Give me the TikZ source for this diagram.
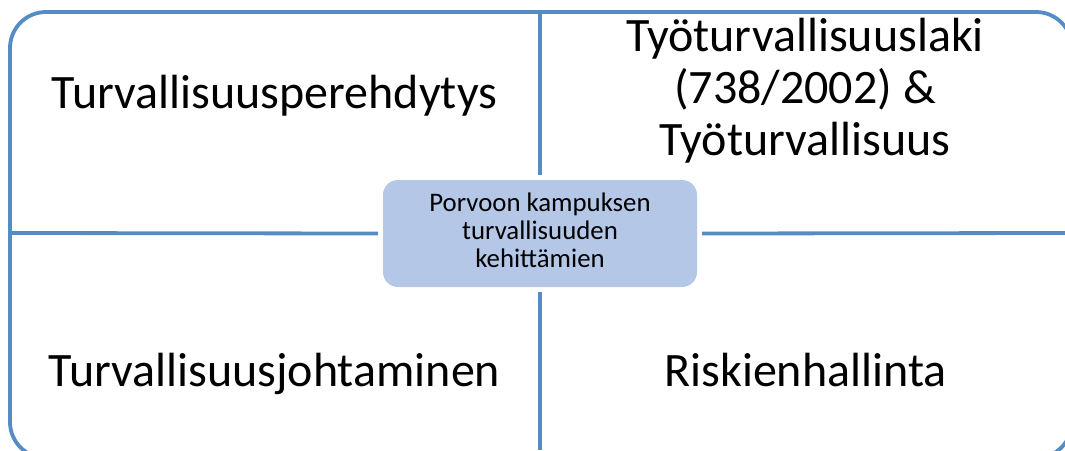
\documentclass[tikz,border=0pt]{standalone}
\usepackage{fontspec}
\setmainfont{Carlito}
\definecolor{linec}{RGB}{86,140,198}
\definecolor{boxfill}{RGB}{180,199,231}
\begin{document}
\begin{tikzpicture}[x=1pt,y=-1pt,
  frame/.style={draw=linec,line width=3.8pt},
  divider/.style={draw=linec,line width=3.8pt},
  bigtext/.style={font=\fontsize{48}{51.7}\selectfont,align=center,inner sep=0pt,anchor=base},
  centerbox/.style={fill=boxfill,rounded corners=15pt,minimum width=314pt,minimum height=107pt,inner sep=0pt},
  smalltext/.style={font=\fontsize{26.8}{28}\selectfont,align=center,inner sep=0pt,anchor=base}]
\useasboundingbox (0,0) rectangle (1065,450);
\begin{scope}
\clip (0,0) rectangle (1065,450);
\draw[frame,rounded corners=36pt] (10,12) rectangle (1072,458);
\end{scope}
\node[centerbox] (c) at (540,233.5) {};
\node[smalltext] (ct) at (540,267.5) {Porvoon kampuksen\\turvallisuuden\\kehittämien};
\coordinate (top) at (540,12);
\coordinate (bot) at (540,450);
\coordinate (lft) at (10,233);
\coordinate (rgt) at (1065,233);
\draw[divider] (top) -- ([yshift=5pt]c.north);
\draw[divider] ([yshift=-5pt]c.south) -- (bot);
\draw[divider] (lft) -- ([xshift=-5pt]c.west);
\draw[divider] ([xshift=5pt]c.east) -- (rgt);
\node[bigtext] (tl) at (274.5,108.3) {Turvallisuusperehdytys};
\node[bigtext] (tr) at (805,155) {Työturvallisuuslaki\\(738/2002) \&\\Työturvallisuus};
\node[bigtext] (bl) at (274.5,386.7) {Turvallisuusjohtaminen};
\node[bigtext] (br) at (805.5,386.7) {Riskienhallinta};
\end{tikzpicture}
\end{document}
